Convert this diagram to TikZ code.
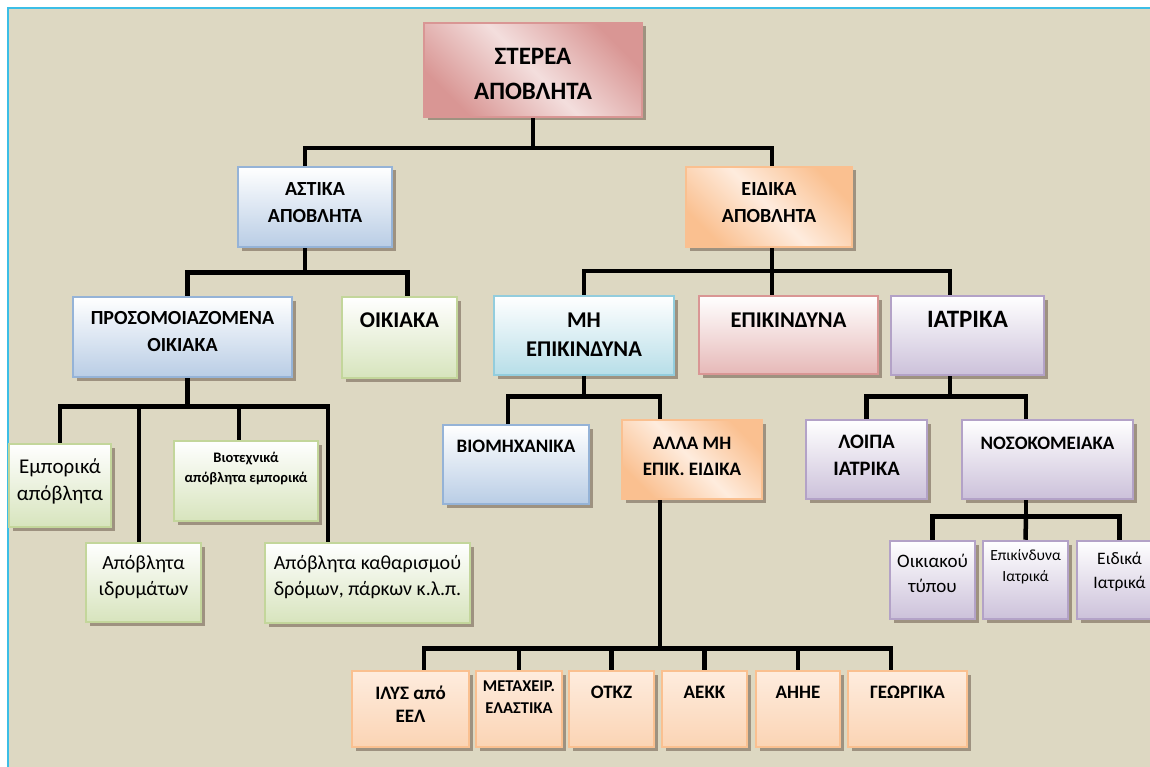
\documentclass[tikz,border=0pt]{standalone}
\usepackage{fontspec}
\setmainfont{Carlito}
\usetikzlibrary{shadows}

\definecolor{bgc}{RGB}{221,216,194}
\definecolor{frame}{RGB}{60,190,230}
\definecolor{shadowc}{RGB}{158,146,128}
\definecolor{redbd}{RGB}{217,150,148}
\definecolor{redfl}{RGB}{230,185,184}
\definecolor{redmid}{RGB}{243,222,221}
\definecolor{bluebd}{RGB}{149,179,215}
\definecolor{bluefl}{RGB}{185,205,229}
\definecolor{orangebd}{RGB}{250,192,144}
\definecolor{orangefl}{RGB}{251,212,180}
\definecolor{orangemid}{RGB}{254,236,222}
\definecolor{greenbd}{RGB}{195,214,155}
\definecolor{greenfl}{RGB}{215,228,189}
\definecolor{cyanbd}{RGB}{147,205,221}
\definecolor{cyanfl}{RGB}{183,222,232}
\definecolor{purplebd}{RGB}{179,162,199}
\definecolor{purplefl}{RGB}{204,193,218}

\tikzset{
  bar/.style={line width=4.5pt},
  blk/.style={draw, line width=2.5pt,
    drop shadow={shadow xshift=3.5pt, shadow yshift=-3.5pt, fill=shadowc, opacity=1}},
  redbig/.style={blk, draw=redbd, top color=redbd, bottom color=redbd, middle color=redmid, shading angle=-45},
  redbox/.style={blk, draw=redbd, top color=white, bottom color=redfl},
  bluebox/.style={blk, draw=bluebd, top color=white, bottom color=bluefl},
  orangebig/.style={blk, draw=orangebd, top color=orangebd, bottom color=orangebd, middle color=orangemid, shading angle=-45},
  orangebox/.style={blk, draw=orangebd, top color=orangemid, bottom color=orangefl},
  greenbox/.style={blk, draw=greenbd, top color=white, bottom color=greenfl},
  cyanbox/.style={blk, draw=cyanbd, top color=white, bottom color=cyanfl},
  purplebox/.style={blk, draw=purplebd, top color=white, bottom color=purplefl},
  lbl/.style={anchor=north, align=center, inner sep=0pt, text=black},
}

\begin{document}
\begin{tikzpicture}[x=1pt, y=-1pt]
    \useasboundingbox (0,0) rectangle (1150,767);
    \fill[white] (0,0) rectangle (1150,767);
    \fill[bgc] (8,8) rectangle (1150,767);
    \draw[frame, line width=2pt] (8,767) -- (8,8) -- (1150,8);

    % top and first level
    \node (stereo) [redbig, minimum width=218pt, minimum height=94pt, label={[lbl, yshift=-26pt, font={\fontsize{25}{35}\selectfont\bfseries}]north:{ΣΤΕΡΕΑ\\ΑΠΟΒΛΗΤΑ}}] at (533,70) {};
    \node (astika) [bluebox, minimum width=154pt, minimum height=80pt, label={[lbl, yshift=-17pt, font={\fontsize{20}{27}\selectfont\bfseries}]north:{ΑΣΤΙΚΑ\\ΑΠΟΒΛΗΤΑ}}] at (315,207) {};
    \node (eidika) [orangebig, minimum width=166pt, minimum height=80pt, label={[lbl, yshift=-17pt, font={\fontsize{20}{27}\selectfont\bfseries}]north:{ΕΙΔΙΚΑ\\ΑΠΟΒΛΗΤΑ}}] at (769,207) {};

    % second level
    \node (pros) [bluebox, minimum width=219pt, minimum height=80pt, label={[lbl, yshift=-15pt, font={\fontsize{20}{27}\selectfont\bfseries}]north:{ΠΡΟΣΟΜΟΙΑΖΟΜΕΝΑ\\ΟΙΚΙΑΚΑ}}] at (182.5,337) {};
    \node (oikiaka) [greenbox, minimum width=115pt, minimum height=81pt, label={[lbl, yshift=-17pt, font={\fontsize{22.5}{29}\selectfont\bfseries}]north:ΟΙΚΙΑΚΑ}] at (399.5,337.5) {};
    \node (mi) [cyanbox, minimum width=180pt, minimum height=79pt, label={[lbl, yshift=-18pt, font={\fontsize{22.5}{29}\selectfont\bfseries}]north:{ΜΗ\\ΕΠΙΚΙΝΔΥΝΑ}}] at (584,335.5) {};
    \node (epik) [redbox, minimum width=179pt, minimum height=78pt, label={[lbl, yshift=-18pt, font={\fontsize{22.5}{29}\selectfont\bfseries}]north:ΕΠΙΚΙΝΔΥΝΑ}] at (788.5,335) {};
    \node (iatrika) [purplebox, minimum width=153pt, minimum height=79pt, label={[lbl, yshift=-16pt, font={\fontsize{25}{30}\selectfont\bfseries}]north:ΙΑΤΡΙΚΑ}] at (967.5,335.5) {};

    % under the prosomoiazomena
    \node (empor) [greenbox, minimum width=102pt, minimum height=83pt, label={[lbl, yshift=-16pt, font={\fontsize{21}{27}\selectfont}]north:{Εμπορικά\\απόβλητα}}] at (60,485.5) {};
    \node (viot) [greenbox, minimum width=144pt, minimum height=80pt, label={[lbl, yshift=-12pt, font={\fontsize{14.5}{20}\selectfont\bfseries}]north:{Βιοτεχνικά\\απόβλητα εμπορικά}}] at (246,481) {};
    \node (idrym) [greenbox, minimum width=115pt, minimum height=79pt, label={[lbl, yshift=-13pt, font={\fontsize{20}{26}\selectfont}]north:{Απόβλητα\\ιδρυμάτων}}] at (143.5,582.5) {};
    \node (kathar) [greenbox, minimum width=205pt, minimum height=80pt, label={[lbl, yshift=-13pt, font={\fontsize{20}{26}\selectfont}]north:{Απόβλητα καθαρισμού\\δρόμων, πάρκων κ.λ.π.}}] at (367.5,583) {};

    % under mi epikindyna and iatrika
    \node (viom) [bluebox, minimum width=146pt, minimum height=79pt, label={[lbl, yshift=-16pt, font={\fontsize{19}{26}\selectfont\bfseries}]north:ΒΙΟΜΗΧΑΝΙΚΑ}] at (516,464.5) {};
    \node (alla) [orangebig, minimum width=140pt, minimum height=79pt, label={[lbl, yshift=-18pt, font={\fontsize{19}{26}\selectfont\bfseries}]north:{ΑΛΛΑ ΜΗ\\ΕΠΙΚ. ΕΙΔΙΚΑ}}] at (692,459.5) {};
    \node (loipa) [purplebox, minimum width=121pt, minimum height=79pt, label={[lbl, yshift=-16pt, font={\fontsize{20.5}{27}\selectfont\bfseries}]north:{ΛΟΙΠΑ\\ΙΑΤΡΙΚΑ}}] at (866.5,459.5) {};
    \node (nosok) [purplebox, minimum width=171pt, minimum height=79pt, label={[lbl, yshift=-18pt, font={\fontsize{19}{26}\selectfont\bfseries}]north:ΝΟΣΟΚΟΜΕΙΑΚΑ}] at (1047.5,459.5) {};
    \node (oikt) [purplebox, minimum width=85pt, minimum height=78pt, label={[lbl, yshift=-14pt, font={\fontsize{19}{25}\selectfont}]north:{Οικιακού\\τύπου}}] at (932.5,580) {};
    \node (epiat) [purplebox, minimum width=85pt, minimum height=78pt, label={[lbl, yshift=-10pt, font={\fontsize{15.5}{21}\selectfont}]north:{Επικίνδυνα\\Ιατρικά}}] at (1025.5,580) {};
    \node (eidiat) [purplebox, minimum width=85pt, minimum height=78pt, label={[lbl, yshift=-12pt, font={\fontsize{17.5}{24}\selectfont}]north:{Ειδικά\\Ιατρικά}}] at (1119.5,580) {};

    % bottom row
    \node (ilys) [orangebox, minimum width=117pt, minimum height=76pt, label={[lbl, yshift=-16pt, font={\fontsize{19}{23}\selectfont\bfseries}]north:{ΙΛΥΣ από\\ΕΕΛ}}] at (410.5,709) {};
    \node (metax) [orangebox, minimum width=86pt, minimum height=76pt, label={[lbl, yshift=-11pt, font={\fontsize{16.5}{22}\selectfont\bfseries}]north:{ΜΕΤΑΧΕΙΡ.\\ΕΛΑΣΤΙΚΑ}}] at (519,709) {};
    \node (otkz) [orangebox, minimum width=85pt, minimum height=76pt, label={[lbl, yshift=-16pt, font={\fontsize{19}{23}\selectfont\bfseries}]north:ΟΤΚΖ}] at (611.5,709) {};
    \node (aekk) [orangebox, minimum width=85pt, minimum height=76pt, label={[lbl, yshift=-16pt, font={\fontsize{19}{23}\selectfont\bfseries}]north:ΑΕΚΚ}] at (704.5,709) {};
    \node (aiie) [orangebox, minimum width=84pt, minimum height=76pt, label={[lbl, yshift=-16pt, font={\fontsize{19}{23}\selectfont\bfseries}]north:ΑΗΗΕ}] at (798,709) {};
    \node (georg) [orangebox, minimum width=119pt, minimum height=76pt, label={[lbl, yshift=-16pt, font={\fontsize{19}{23}\selectfont\bfseries}]north:ΓΕΩΡΓΙΚΑ}] at (907.5,709) {};

    % connectors
    \draw[bar] (stereo.south) -- ++(0,30) coordinate (j1);
    \draw[bar] ([xshift=-10pt]astika.north) |- (j1) -| ([xshift=3pt]eidika.north);

    \draw[bar] ([xshift=-10pt]astika.south) -- ++(0,24) coordinate (j2);
    \draw[bar] ([xshift=5pt]pros.north) |- (j2) -| ([xshift=8pt]oikiaka.north);

    \draw[bar] ([xshift=3pt]eidika.south) -- ([xshift=-16.5pt]epik.north);
    \coordinate (j3) at (772,271);
    \draw[bar] (mi.north) |- (j3) -| ([xshift=-17.5pt]iatrika.north);

    \draw[bar] ([xshift=5pt]pros.south) -- ++(0,28) coordinate (j4);
    \draw[bar] (empor.north) |- (j4) -| ([xshift=-39.5pt]kathar.north);
    \draw[bar] ([xshift=-4.5pt]idrym.north) -- ([xshift=-4.5pt]idrym.north |- j4);
    \draw[bar] ([xshift=-7pt]viot.north) -- ([xshift=-7pt]viot.north |- j4);

    \draw[bar] (mi.south) -- ++(0,20) coordinate (j5);
    \draw[bar] ([xshift=-8pt]viom.north) |- (j5) -| ([xshift=-32pt]alla.north);

    \draw[bar] ([xshift=-17.5pt]iatrika.south) -- ++(0,20) coordinate (j6);
    \draw[bar] (loipa.north) |- (j6) -| ([xshift=-21.5pt]nosok.north);

    \draw[bar] ([xshift=-21.5pt]nosok.south) -- ++(0,16) coordinate (j7);
    \draw[bar] (j7) -- (epiat.north);
    \draw[bar] (oikt.north) |- (j7) -| (eidiat.north);

    \draw[bar] ([xshift=-32pt]alla.south) -- ++(0,148) coordinate (j8);
    \draw[bar] ([xshift=13.5pt]ilys.north) |- (j8) -| ([xshift=-16.5pt]georg.north);
    \foreach \n in {metax, otkz, aekk, aiie}
        \draw[bar] (\n.north) -- (\n.north |- j8);
\end{tikzpicture}
\end{document}
